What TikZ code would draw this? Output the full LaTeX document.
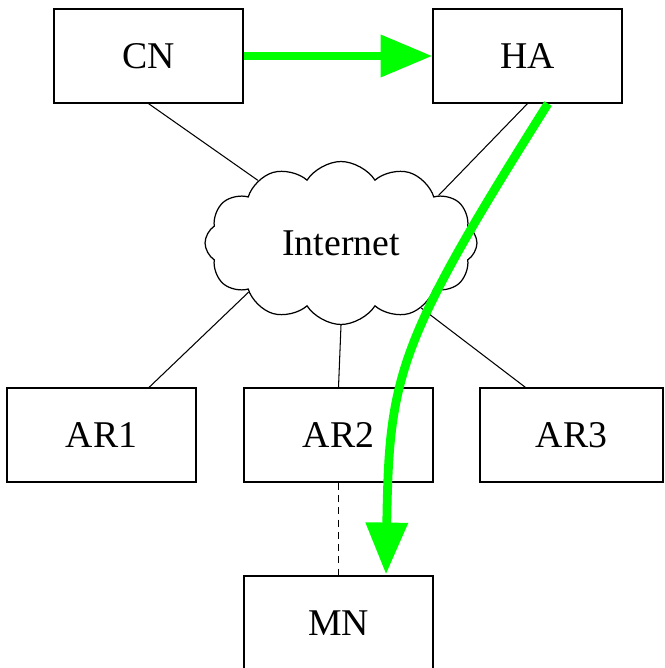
\documentclass[tikz,border=0pt]{standalone}
\usepackage{fontspec}
\setmainfont{Liberation Serif}
\usepackage{xcolor}
\usetikzlibrary{positioning,shapes,arrows.meta,calc}
\definecolor{brightgreen}{RGB}{0,255,0}
\begin{document}
\begin{tikzpicture}[x=0.02cm,y=-0.02cm]
\tikzstyle{every node}+=[font=\fontsize{21.5}{26}\selectfont]
\tikzstyle{box}=[draw,line width=0.7pt,minimum width=3.78cm,minimum height=1.88cm,inner sep=0pt]
\tikzstyle{link}=[line width=0.6pt]
\tikzstyle{flow}=[draw=brightgreen,line width=5pt,-{Triangle[length=29.5pt,width=23pt]}]
\useasboundingbox (0,0) rectangle (664,668);
\node [box] (cn) at (148.5,56) {CN};
\node [box] (ha) at (527.5,56) {HA};
\node [draw,cloud,cloud puffs=12,cloud puff arc=115,aspect=1.7,line width=0.7pt,
  minimum width=5.44cm,minimum height=3.26cm,inner sep=0pt] (net) at (341,243) {Internet};
\node [box] (ar1) at (101.5,435) {AR1};
\node [box] (ar2) at (338.5,435) {AR2};
\node [box,minimum width=3.66cm] (ar3) at (571.5,435) {AR3};
\node [box] (mn) at (338.5,623) {MN};
\draw [link] (cn.south) -- (net.143);
\draw [link] (ha.south) -- (net.26);
\draw [link] ($(ar1.north)!0.5!(ar1.north east)$) -- (net.208);
\draw [link] (ar2.north) -- (net.south);
\draw [link] ($(ar3.north)!0.5!(ar3.north west)$) -- (net.321);
\draw [link,dash pattern=on 4pt off 3pt] (ar2.south) -- (mn.north);
\draw [flow] (cn.east) -- (ha.west);
\draw [flow] ($(ha.south)+(20.5,0)$) .. controls (397,343) and (389,375) .. ($(mn.north)+(47.5,-1)$);
\end{tikzpicture}
\end{document}
